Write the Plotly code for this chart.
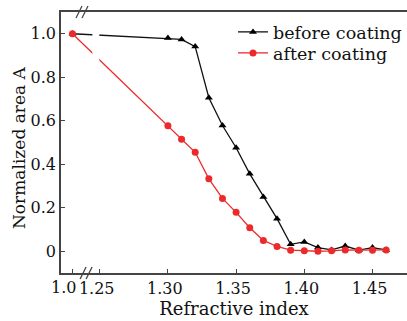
import plotly.graph_objects as go

# ---- data ----
refractive_index = [1.00, 1.30, 1.31, 1.32, 1.33, 1.34, 1.35, 1.36, 1.37, 1.38,
                    1.39, 1.40, 1.41, 1.42, 1.43, 1.44, 1.45, 1.46]
before_coating = [1.00, 0.980, 0.974, 0.941, 0.706, 0.578, 0.476, 0.356, 0.250, 0.150,
                  0.032, 0.043, 0.017, 0.006, 0.024, 0.005, 0.017, 0.006]
after_coating = [1.00, 0.577, 0.515, 0.455, 0.333, 0.243, 0.179, 0.108, 0.050, 0.022,
                 0.005, 0.002, 0.000, 0.002, 0.006, 0.005, 0.005, 0.006]
x_tick_values = [1.00, 1.25, 1.30, 1.35, 1.40, 1.45]
x_tick_labels = ["1.0", "1.25", "1.30", "1.35", "1.40", "1.45"]
y_tick_values = [0, 0.2, 0.4, 0.6, 0.8, 1.0]
y_tick_labels = ["0", "0.2", "0.4", "0.6", "0.8", "1.0"]

# broken axis: values below 1.25 are drawn in a compressed segment
BREAK_AT = 1.25
LOW_POS = 1.230  # axis position used for the 1.0 point


def axis_pos(v):
    return v if v >= BREAK_AT else LOW_POS


FONT = "DejaVu Serif"
RED = "#ec2a2c"
AXIS = "#444444"

fig = go.Figure()
fig.add_trace(go.Scatter(
    x=[axis_pos(v) for v in refractive_index], y=before_coating,
    mode="lines+markers", name="before coating", legend="legend",
    line=dict(color="#111111", width=1.3),
    marker=dict(symbol="triangle-up", size=7, color="#000000"),
))
fig.add_trace(go.Scatter(
    x=[axis_pos(v) for v in refractive_index], y=after_coating,
    mode="lines+markers", name="after coating", legend="legend2",
    line=dict(color=RED, width=1.3),
    marker=dict(symbol="circle", size=7, color=RED),
))

shapes = []
# gap in the connecting lines at the break
shapes.append(dict(type="rect", xref="x", yref="y", x0=1.2446, x1=1.2497,
                   y0=0.84, y1=1.04, fillcolor="white", line=dict(width=0),
                   layer="above"))
# "//" break marks on top and bottom axes
for yref_val, xc in ((1.0, 1.2370), (0.0, 1.2400)):
    for dx in (-3, 3):
        shapes.append(dict(type="line", xref="x", yref="paper",
                           xsizemode="pixel", ysizemode="pixel",
                           xanchor=xc, yanchor=yref_val,
                           x0=dx - 3, x1=dx + 3, y0=-6, y1=6,
                           line=dict(color=AXIS, width=1.3)))

PLOT_L, PLOT_W, PLOT_T, PLOT_H = 61, 346, 12, 261


def px_x(p):
    return (p - PLOT_L) / PLOT_W


def px_y(p):
    return 1 - (p - PLOT_T) / PLOT_H


legend_common = dict(xanchor="left", yanchor="middle", bgcolor="rgba(0,0,0,0)",
                     font=dict(family=FONT, size=17.5), itemwidth=30)

# the "1.0" label sits left of its tick, touching the "1.25" label
tick_text_shown = ["" if v < BREAK_AT else t for v, t in zip(x_tick_values, x_tick_labels)]
low_labels = [dict(text=t, xref="paper", yref="paper", x=px_x(78), y=px_y(287),
                   xanchor="right", yanchor="middle", showarrow=False,
                   font=dict(family=FONT, size=16))
              for v, t in zip(x_tick_values, x_tick_labels) if v < BREAK_AT]

fig.update_layout(
    width=407, height=321,
    margin=dict(l=PLOT_L, r=0, t=PLOT_T, b=48),
    paper_bgcolor="white", plot_bgcolor="white",
    font=dict(family=FONT, size=16, color="#111111"),
    showlegend=True,
    legend=dict(x=px_x(233), y=px_y(32), **legend_common),
    legend2=dict(x=px_x(233), y=px_y(53), **legend_common),
    shapes=shapes,
    annotations=[dict(text="Normalized area A", textangle=-90,
                      xref="paper", yref="paper", x=px_x(18.5), y=px_y(147.5),
                      xanchor="center", yanchor="middle", showarrow=False,
                      font=dict(family=FONT, size=17))] + low_labels,
)
fig.update_xaxes(
    range=[1.2216, 1.4753], tickvals=[axis_pos(v) for v in x_tick_values],
    ticktext=tick_text_shown, tickangle=0, ticklabelshift=-3,
    ticks="inside", ticklen=4, tickwidth=1.2, tickcolor=AXIS,
    showline=True, linecolor=AXIS, linewidth=1.5, mirror=True,
    showgrid=False, zeroline=False,
    title=dict(text="Refractive index", standoff=5, font=dict(family=FONT, size=18)),
)
fig.update_yaxes(
    range=[-0.1, 1.1], tickvals=y_tick_values, ticktext=y_tick_labels,
    ticks="inside", ticklen=4, tickwidth=1.2, tickcolor=AXIS,
    showline=True, linecolor=AXIS, linewidth=1.5,
    showgrid=False, zeroline=False,
)

fig.write_html("out.html")
